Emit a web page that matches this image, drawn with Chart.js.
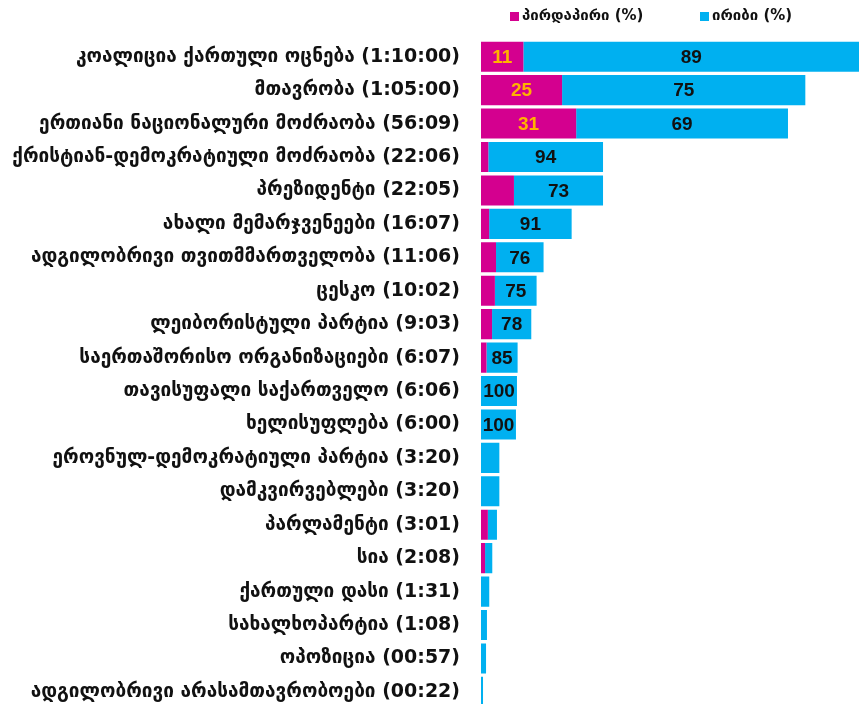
<!DOCTYPE html>
<html>
<head>
<meta charset="utf-8">
<script src="https://cdn.jsdelivr.net/npm/chart.js@4"></script>
<style>
  html, body { margin: 0; padding: 0; background: #fff; overflow: hidden; }
  #wrap { width: 859px; height: 704px; overflow: hidden; }
</style>
</head>
<body>
<div id="wrap"><canvas id="chart" width="859" height="741"></canvas></div>
<script>
// speakers with airtime, as labelled
const categories = [
  'კოალიცია ქართული ოცნება (1:10:00)',
  'მთავრობა (1:05:00)',
  'ერთიანი ნაციონალური მოძრაობა (56:09)',
  'ქრისტიან-დემოკრატიული მოძრაობა (22:06)',
  'პრეზიდენტი (22:05)',
  'ახალი მემარჯვენეები (16:07)',
  'ადგილობრივი თვითმმართველობა (11:06)',
  'ცესკო (10:02)',
  'ლეიბორისტული პარტია (9:03)',
  'საერთაშორისო ორგანიზაციები (6:07)',
  'თავისუფალი საქართველო (6:06)',
  'ხელისუფლება (6:00)',
  'ეროვნულ-დემოკრატიული პარტია (3:20)',
  'დამკვირვებლები (3:20)',
  'პარლამენტი (3:01)',
  'სია (2:08)',
  'ქართული დასი (1:31)',
  'სახალხოპარტია (1:08)',
  'ოპოზიცია (00:57)',
  'ადგილობრივი არასამთავრობოები (00:22)'
];

// bar length (seconds)
const barSeconds = [4200, 3535, 3346, 1330, 1330, 988, 682, 606, 548, 399, 392, 381, 200, 200, 174, 123, 90, 65, 55, 22];

// share of direct / indirect speech, %
const directPct   = [11, 25, 31, 6, 27, 9, 24, 25, 22, 15, 0, 0, 0, 0, 43, 36, 0, 0, 0, 0];
const indirectPct = [89, 75, 69, 94, 73, 91, 76, 75, 78, 85, 100, 100, 100, 100, 57, 64, 100, 100, 100, 100];

const seriesNames = ['პირდაპირი (%)', 'ირიბი (%)'];
const pink = '#d4008f';
const blue = '#00b0f0';

const directLen = barSeconds.map((s, i) => s * directPct[i] / 100);
const indirectLen = barSeconds.map((s, i) => s * indirectPct[i] / 100);

const labelFont = '"DejaVu Sans", sans-serif';
const numFont = '"Liberation Sans Narrow", "Liberation Sans", sans-serif';

// value labels inside the segments
const valueLabels = {
  id: 'valueLabels',
  afterDatasetsDraw(chart) {
    const ctx = chart.ctx;
    ctx.save();
    ctx.font = 'bold 19px ' + numFont;
    ctx.textAlign = 'center';
    ctx.textBaseline = 'middle';
    const pcts = [directPct, indirectPct];
    chart.data.datasets.forEach((ds, di) => {
      chart.getDatasetMeta(di).data.forEach((bar, i) => {
        const left = Math.min(bar.base, bar.x);
        const right = Math.min(Math.max(bar.base, bar.x), chart.chartArea.right);
        const w = right - left;
        if (w < (di === 0 ? 40 : 28)) return;
        ctx.fillStyle = di === 0 ? '#ffb300' : '#111';
        ctx.fillText(String(pcts[di][i]), (left + right) / 2, bar.y + 1);
      });
    });
    ctx.restore();
  }
};

// legend above the bars
const topLegend = {
  id: 'topLegend',
  afterDraw(chart) {
    const ctx = chart.ctx;
    ctx.save();
    ctx.font = 'bold 15px ' + labelFont;
    ctx.textBaseline = 'middle';
    const xs = [510, 700];
    chart.data.datasets.forEach((ds, i) => {
      ctx.fillStyle = ds.backgroundColor;
      ctx.fillRect(xs[i], 12, 9, 9);
      ctx.fillStyle = '#111';
      ctx.fillText(ds.label, xs[i] + 12, 16);
    });
    ctx.restore();
  }
};

new Chart(document.getElementById('chart'), {
  type: 'bar',
  data: {
    labels: categories,
    datasets: [
      { label: seriesNames[0], data: directLen, backgroundColor: pink },
      { label: seriesNames[1], data: indirectLen, backgroundColor: blue }
    ]
  },
  options: {
    indexAxis: 'y',
    responsive: false,
    animation: false,
    devicePixelRatio: 1,
    layout: { padding: { top: 40, right: 0, bottom: 0, left: 0 } },
    datasets: { bar: { barPercentage: 0.9, categoryPercentage: 1.0, borderWidth: 0 } },
    plugins: { legend: { display: false }, tooltip: { enabled: false } },
    scales: {
      x: { stacked: true, display: false, min: 0, max: 4120 },
      y: {
        stacked: true,
        grid: { display: false, drawTicks: false },
        border: { display: false },
        afterFit(scale) { scale.width = 481; },
        ticks: {
          padding: 21,
          color: '#111',
          autoSkip: false,
          font: { family: labelFont, size: 19, weight: 'bold' }
        }
      }
    }
  },
  plugins: [valueLabels, topLegend]
});
</script>
</body>
</html>
